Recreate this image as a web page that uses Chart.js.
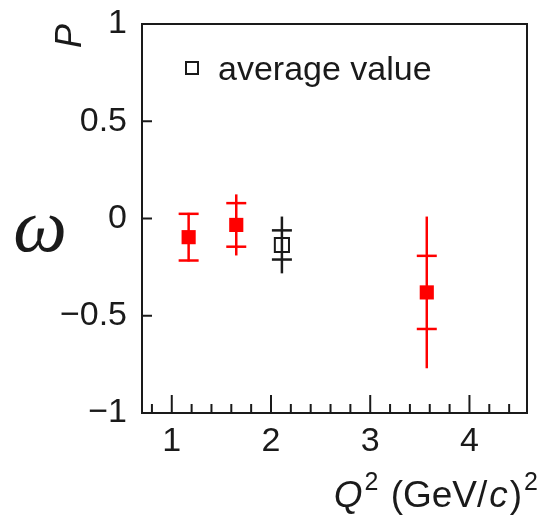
<!DOCTYPE html>
<html>
<head>
<meta charset="utf-8">
<script src="https://cdn.jsdelivr.net/npm/chart.js@4.4.1/dist/chart.umd.min.js"></script>
<style>
  body { margin: 0; background: #fff; }
  canvas { display: block; }
</style>
</head>
<body>
<canvas id="canvas" width="539" height="517"></canvas>
<script>
// measured points (Q^2 in (GeV/c)^2)
const redQ2 = [1.17, 1.65, 3.57];
const redValue = [-0.096, -0.033, -0.380];
const redStat = [0.12, 0.112, 0.188];
const redTotal = [0.125, 0.157, 0.39];

// average value
const avgQ2 = [2.11];
const avgValue = [-0.136];
const avgStat = [0.075];
const avgTotal = [0.146];

const xTickLabels = [1, 2, 3, 4];
const yTickLabels = [-1, -0.5, 0, 0.5, 1];
const legendText = 'average value';

const ink = '#1a1a1a';
const red = '#ff0000';
const sans = "'Liberation Sans', Arial, sans-serif";

// error bars: full line for total, small caps for stat part
const errorBars = {
    id: 'errorBars',
    beforeDatasetsDraw(chart) {
        const ctx = chart.ctx;
        const xs = chart.scales.x, ys = chart.scales.y;
        const draw = (q, v, st, tot, color) => {
            ctx.save();
            ctx.strokeStyle = color;
            ctx.lineWidth = 2.5;
            for (let i = 0; i < q.length; i++) {
                const px = xs.getPixelForValue(q[i]);
                ctx.beginPath();
                ctx.moveTo(px, ys.getPixelForValue(v[i] + tot[i]));
                ctx.lineTo(px, ys.getPixelForValue(v[i] - tot[i]));
                ctx.stroke();
                [v[i] + st[i], v[i] - st[i]].forEach(e => {
                    const py = ys.getPixelForValue(e);
                    ctx.beginPath();
                    ctx.moveTo(px - 10, py);
                    ctx.lineTo(px + 10, py);
                    ctx.stroke();
                });
            }
            ctx.restore();
        };
        draw(redQ2, redValue, redStat, redTotal, red);
        draw(avgQ2, avgValue, avgStat, avgTotal, ink);
    }
};

// frame, inward ticks, legend and axis titles
const frame = {
    id: 'frame',
    afterDraw(chart) {
        const ctx = chart.ctx;
        const a = chart.chartArea;
        const xs = chart.scales.x, ys = chart.scales.y;
        ctx.save();
        ctx.strokeStyle = ink;
        ctx.lineWidth = 2;
        ctx.strokeRect(a.left, a.top, a.right - a.left, a.bottom - a.top);

        // x ticks every 0.2, longer at integers
        for (let k = 4; k <= 22; k++) {
            const v = k / 5;
            if (v < xs.min || v > xs.max) continue;
            const px = xs.getPixelForValue(v);
            const len = k % 5 === 0 ? 18 : 9;
            ctx.beginPath();
            ctx.moveTo(px, a.bottom);
            ctx.lineTo(px, a.bottom - len);
            ctx.stroke();
        }
        // y ticks every 0.5
        ys.ticks.forEach(t => {
            const py = ys.getPixelForValue(t.value);
            ctx.beginPath();
            ctx.moveTo(a.left, py);
            ctx.lineTo(a.left + 10, py);
            ctx.stroke();
        });

        // legend
        ctx.lineWidth = 2;
        ctx.strokeRect(186, 62, 12, 12);
        ctx.fillStyle = ink;
        ctx.font = '34px ' + sans;
        ctx.textBaseline = 'alphabetic';
        ctx.textAlign = 'left';
        ctx.fillText(legendText, 218, 80);

        // x title: Q^2 (GeV/c)^2, right aligned
        const big = '37px ' + sans, bigIt = 'italic 37px ' + sans, sup = '25px ' + sans;
        const parts = [
            ['Q', bigIt, 0], ['2', sup, -17], [' (GeV/', big, 0],
            ['c', bigIt, 0], [')', big, 0], ['2', sup, -17]
        ];
        let w = 0;
        parts.forEach(p => { ctx.font = p[1]; w += ctx.measureText(p[0]).width + 2; });
        let x = 540 - w;
        parts.forEach(p => {
            ctx.font = p[1];
            ctx.fillText(p[0], x, 507 + p[2]);
            x += ctx.measureText(p[0]).width + 2;
        });

        // y title P, rotated
        ctx.save();
        ctx.translate(81, 48);
        ctx.rotate(-Math.PI / 2);
        ctx.font = 'italic 36px ' + sans;
        ctx.fillText('P', 0, 0);
        ctx.restore();

        // omega
        ctx.font = "italic 76px 'Liberation Serif', 'DejaVu Serif', serif";
        ctx.textAlign = 'center';
        ctx.fillText('ω', 40, 251);
        ctx.restore();
    }
};

const ctx = document.getElementById('canvas').getContext('2d');
const myChart = new Chart(ctx, {
    type: 'scatter',
    data: {
        datasets: [{
            label: 'ω',
            data: redQ2.map((q, i) => ({ x: q, y: redValue[i] })),
            pointStyle: 'rect',
            pointRadius: 10,
            backgroundColor: red,
            borderColor: red,
            borderWidth: 0
        }, {
            label: legendText,
            data: avgQ2.map((q, i) => ({ x: q, y: avgValue[i] })),
            pointStyle: 'rect',
            pointRadius: 10,
            backgroundColor: 'rgba(0,0,0,0)',
            borderColor: ink,
            borderWidth: 2
        }]
    },
    options: {
        responsive: false,
        animation: false,
        layout: { padding: { top: 24, right: 9, left: 0, bottom: 0 } },
        plugins: { legend: { display: false }, tooltip: { enabled: false } },
        scales: {
            x: {
                type: 'linear',
                min: 0.7,
                max: 4.58,
                grid: { display: false, drawTicks: false },
                border: { display: false },
                afterBuildTicks: s => { s.ticks = xTickLabels.map(v => ({ value: v })); },
                ticks: {
                    autoSkip: false,
                    maxRotation: 0,
                    padding: 8,
                    color: ink,
                    font: { family: sans, size: 34 },
                    callback: v => String(v)
                },
                afterFit: s => { s.height = 104; s.paddingLeft = 0; s.paddingRight = 0; }
            },
            y: {
                min: -1,
                max: 1,
                grid: { display: false, drawTicks: false },
                border: { display: false },
                afterBuildTicks: s => { s.ticks = yTickLabels.map(v => ({ value: v })); },
                ticks: {
                    padding: 15,
                    color: ink,
                    font: { family: sans, size: 34 },
                    callback: v => v < 0 ? '\u2212' + Math.abs(v) : String(v)
                },
                afterFit: s => { s.width = 142; s.paddingTop = 0; s.paddingBottom = 0; }
            }
        }
    },
    plugins: [errorBars, frame]
});
</script>
</body>
</html>
